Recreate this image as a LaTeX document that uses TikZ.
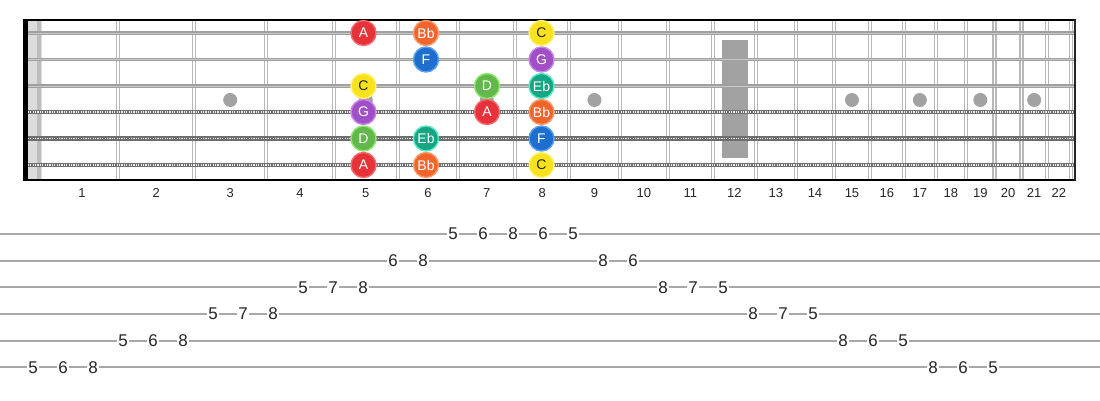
\documentclass[tikz,border=0pt]{standalone}
\usepackage{fontspec}
\setmainfont{Liberation Sans}
\definecolor{fretc}{HTML}{B8B8B8}
\definecolor{strc}{HTML}{A0A0A0}
\definecolor{strl}{HTML}{C8C8C8}
\definecolor{woundc}{HTML}{6E6E6E}
\definecolor{inlayc}{HTML}{A2A2A2}
\definecolor{nutc}{HTML}{DCDCDC}
\definecolor{nutd}{HTML}{BDBDBD}
\definecolor{tabc}{HTML}{A8A8A8}
\definecolor{cA}{HTML}{E63238}\definecolor{rA}{HTML}{F26A6E}
\definecolor{cBb}{HTML}{F2652A}\definecolor{rBb}{HTML}{F89A70}
\definecolor{cC}{HTML}{F7E21C}\definecolor{rC}{HTML}{FFF27A}
\definecolor{cG}{HTML}{A04FC6}\definecolor{rG}{HTML}{C888E8}
\definecolor{cD}{HTML}{62B84A}\definecolor{rD}{HTML}{8EE870}
\definecolor{cEb}{HTML}{14A682}\definecolor{rEb}{HTML}{5AE6C0}
\definecolor{cF}{HTML}{1E6ECF}\definecolor{rF}{HTML}{5AA0F0}
\tikzset{
  fretline/.style={fretc,line width=1.3pt},
  plainstr/.style={strc,line width=3.6pt},
  plainhi/.style={strl,line width=0.9pt},
  woundstr/.style={woundc,line width=4.6pt},
  woundhi/.style={white!85!gray,line width=1.7pt,dash pattern=on 1.2pt off 1.2pt},
  inlay/.style={circle,fill=inlayc,minimum size=14pt,inner sep=0pt},
  fretnum/.style={font=\fontsize{13}{15}\selectfont,text=black!85},
  note/.style={circle,minimum size=25pt,inner sep=0pt,line width=1.4pt,font=\fontsize{14}{16}\selectfont,text=white},
  nA/.style={note,fill=cA,draw=rA},
  nBb/.style={note,fill=cBb,draw=rBb},
  nC/.style={note,fill=cC,draw=rC,text=black!85},
  nG/.style={note,fill=cG,draw=rG},
  nD/.style={note,fill=cD,draw=rD},
  nEb/.style={note,fill=cEb,draw=rEb},
  nF/.style={note,fill=cF,draw=rF},
  tabline/.style={tabc,line width=1.8pt},
  tabnum/.style={fill=white,inner sep=1.2pt,font=\fontsize{17}{19}\selectfont,text=black!85},
}
\begin{document}
\begin{tikzpicture}[x=1pt,y=-1pt]
\useasboundingbox (0,0) rectangle (1100,400);
\fill[white] (0,0) rectangle (1100,400);
% nut
\fill[nutc] (28,20) rectangle (42,180);
\fill[nutd] (37,20) rectangle (41,180);
% frets
\foreach \n in {1,...,22}{
  \pgfmathsetmacro\fx{37.9+1436*(1-2^(-\n/12))}
  \draw[fretline] (\fx-1.5,20) -- (\fx-1.5,180);
  \draw[fretline] (\fx+1.5,20) -- (\fx+1.5,180);
}
% inlays
\foreach \n in {3,5,7,9,15,17,19,21}{
  \pgfmathsetmacro\xa{37.9+1436*(1-2^(-(\n-1)/12))}
  \pgfmathsetmacro\xb{37.9+1436*(1-2^(-\n/12))}
  \node[inlay] (dot\n) at ({(\xa+\xb)/2},100) {};
}
\fill[inlayc] (722,40) rectangle (748,158);
% strings
\foreach \y in {33,59.5,86}{
  \draw[plainstr] (23,\y) -- (1075,\y);
  \draw[plainhi] (23,\y) -- (1075,\y);
}
\foreach \y in {112,138.5,165}{
  \draw[woundstr] (23,\y) -- (1075,\y);
  \draw[woundhi] (23,\y) -- (1075,\y);
}
% borders
\fill[black] (23,19) rectangle (28,181);
\draw[black,line width=2pt] (23,20) -- (1074.5,20);
\draw[black,line width=2pt] (23,180) -- (1074.5,180);
\draw[black!85,line width=2pt] (1074.5,19) -- (1074.5,181);
% fret numbers
\node[fretnum] (f1) at (82,193) {1};
\foreach \n in {2,...,22}{
  \pgfmathsetmacro\xa{37.9+1436*(1-2^(-(\n-1)/12))}
  \pgfmathsetmacro\xb{37.9+1436*(1-2^(-\n/12))}
  \node[fretnum] (f\n) at ({(\xa+\xb)/2},193) {\n};
}
% notes
\node[nA]  (s1a) at (363.5,33) {A};
\node[nBb] (s1b) at (426,33) {Bb};
\node[nC]  (s1c) at (541.5,33) {C};
\node[nF]  (s2a) at (426,59.5) {F};
\node[nG]  (s2b) at (541.5,59.5) {G};
\node[nC]  (s3a) at (363.5,86) {C};
\node[nD]  (s3b) at (487,86) {D};
\node[nEb] (s3c) at (541.5,86) {Eb};
\node[nG]  (s4a) at (363.5,112) {G};
\node[nA]  (s4b) at (487,112) {A};
\node[nBb] (s4c) at (541.5,112) {Bb};
\node[nD]  (s5a) at (363.5,138.5) {D};
\node[nEb] (s5b) at (426,138.5) {Eb};
\node[nF]  (s5c) at (541.5,138.5) {F};
\node[nA]  (s6a) at (363.5,165) {A};
\node[nBb] (s6b) at (426,165) {Bb};
\node[nC]  (s6c) at (541.5,165) {C};
% tab
\foreach \y in {234,260.7,287.3,314,340.7,367.3}{
  \draw[tabline] (0,\y) -- (1100,\y);
}
\foreach \x/\t [count=\i] in {453/5,483/6,513/8,543/6,573/5}{
  \node[tabnum] (ta\i) at (\x,234) {\t};
}
\foreach \x/\t [count=\i] in {393/6,423/8,603/8,633/6}{
  \node[tabnum] (tb\i) at (\x,260.7) {\t};
}
\foreach \x/\t [count=\i] in {303/5,333/7,363/8,663/8,693/7,723/5}{
  \node[tabnum] (tc\i) at (\x,287.3) {\t};
}
\foreach \x/\t [count=\i] in {213/5,243/7,273/8,753/8,783/7,813/5}{
  \node[tabnum] (td\i) at (\x,314) {\t};
}
\foreach \x/\t [count=\i] in {123/5,153/6,183/8,843/8,873/6,903/5}{
  \node[tabnum] (te\i) at (\x,340.7) {\t};
}
\foreach \x/\t [count=\i] in {33/5,63/6,93/8,933/8,963/6,993/5}{
  \node[tabnum] (tf\i) at (\x,367.3) {\t};
}
\end{tikzpicture}
\end{document}
